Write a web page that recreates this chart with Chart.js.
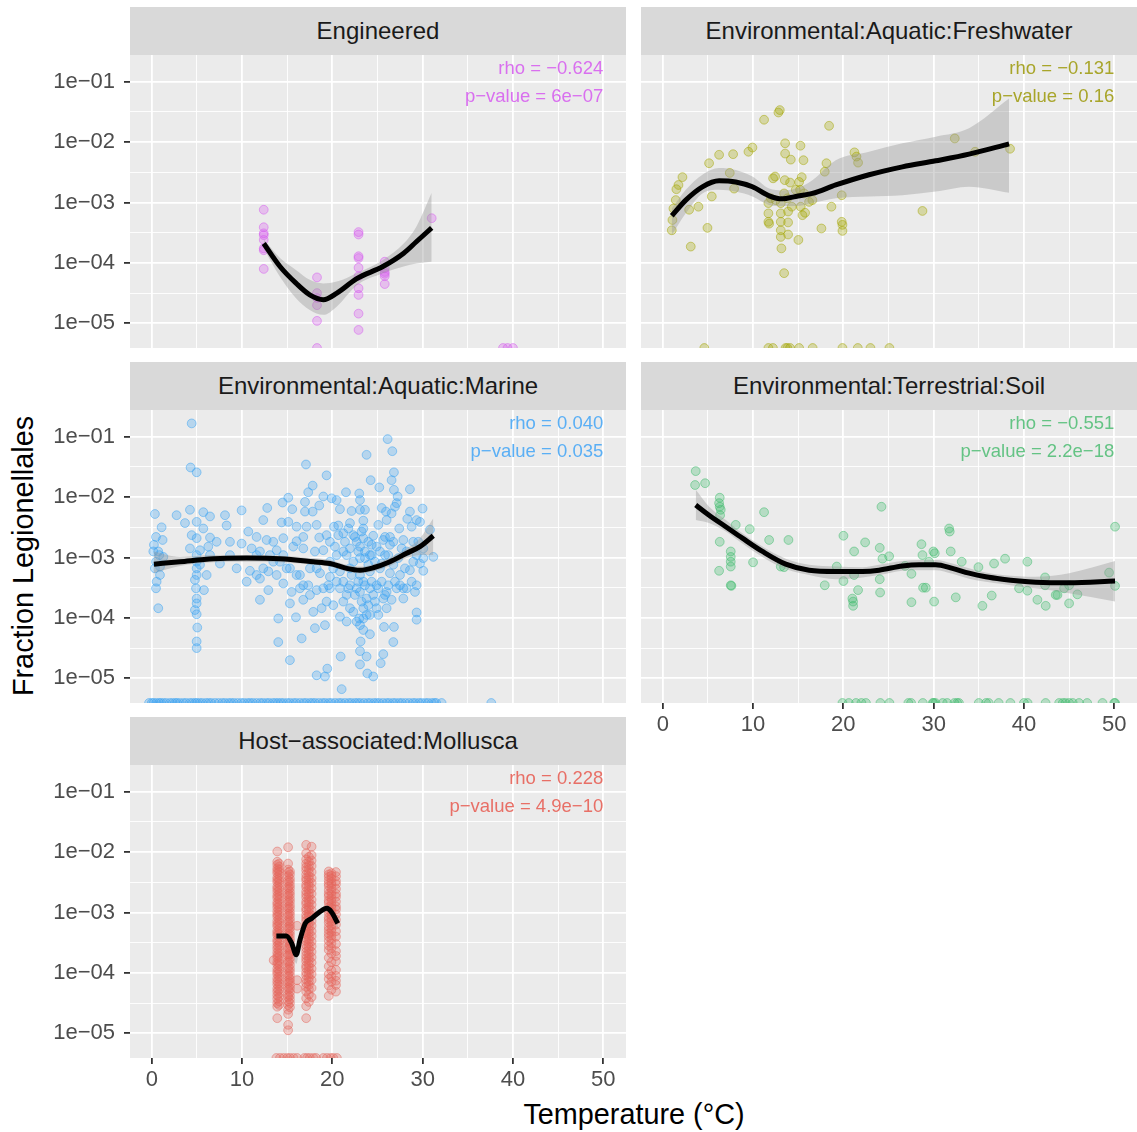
<!DOCTYPE html>
<html>
<head>
<meta charset="utf-8">
<script src="https://cdn.jsdelivr.net/npm/chart.js@4.4.1/dist/chart.umd.min.js"></script>
<style>
  body { margin: 0; background: #fff; width: 1137px; height: 1132px; position: relative; overflow: hidden;
         font-family: 'Liberation Sans', Arial, Helvetica, sans-serif; }
  canvas { position: absolute; }
  .strip { position: absolute; width: 496px; height: 48px; line-height: 48px; background: #D9D9D9;
           color: #1A1A1A; font-size: 24px; text-align: center; white-space: nowrap; }
  .axis-title { position: absolute; color: #000; font-size: 28.8px; white-space: nowrap; }
</style>
</head>
<body>
<div class="axis-title" id="xTitle" style="left:634px; top:1097px; line-height:34px; transform:translateX(-50%);">Temperature (°C)</div>
<div class="axis-title" id="yTitle" style="left:23px; top:556px; line-height:34px; transform:translate(-50%,-50%) rotate(-90deg);">Fraction Legionellales</div>
<script>
// axis breaks (temperature in °C, fraction as log10 exponent)
const tempBreaks = [0, 5, 10, 15, 20, 25, 30, 35, 40, 45, 50];
const fracBreaks = [-5, -4.5, -4, -3.5, -3, -2.5, -2, -1.5, -1];
const tempLimits = [-2.41, 52.52];
const fracLimits = [-5.409, -0.558];

// Engineered
const engTemp = [12.4, 12.4, 12.4, 12.4, 12.4, 12.4, 12.4, 12.4, 18.3, 18.3, 18.3, 18.3, 18.3,
  22.9, 22.9, 22.9, 22.9, 22.9, 22.9, 22.9, 22.9, 22.9, 22.9, 25.8, 25.8, 25.8, 25.8, 25.8, 25.8, 31.0];
const engLog = [-3.12, -3.41, -3.51, -3.54, -3.62, -3.76, -3.79, -4.10, -4.24, -4.50, -4.58, -4.70, -4.96,
  -3.49, -3.53, -3.89, -3.92, -4.08, -4.22, -4.42, -4.53, -4.84, -5.11, -3.98, -4.09, -4.15, -4.18, -4.22, -4.35, -3.26];
const engZero = [18.3, 38.9, 39.4, 40.0];
const engFitT = [12.4, 14.2, 16.0, 17.5, 19.0, 20.5, 22.7, 25.6, 27.9, 29.3, 31.0];
const engFit = [-3.68, -4.06, -4.34, -4.53, -4.61, -4.50, -4.26, -4.06, -3.84, -3.65, -3.42];
const engHi = [-3.61, -3.92, -4.12, -4.28, -4.34, -4.31, -4.17, -3.95, -3.68, -3.40, -2.84];
const engLo = [-3.76, -4.23, -4.59, -4.78, -4.86, -4.72, -4.37, -4.17, -4.06, -4.01, -3.98];

// Environmental:Aquatic:Freshwater
const fwTemp = [1.0, 1.07, 1.18, 1.44, 1.51, 1.74, 2.18, 2.92, 3.10, 3.95, 4.95, 5.13, 5.43, 6.24, 7.42, 7.79, 7.90, 9.49, 9.93, 11.22,
  11.70, 11.70, 11.70, 11.78, 11.96, 12.22, 12.44, 12.81, 12.96, 13.07, 13.07, 13.07, 13.07, 13.07, 13.14, 13.44, 13.51, 13.55, 13.55, 13.81,
  13.88, 13.88, 13.88, 14.10, 14.18, 14.29, 15.02, 15.10, 15.21, 15.25, 15.28, 15.39, 15.47, 15.58, 15.65, 15.76, 16.57, 17.57, 17.94, 18.13,
  18.42, 18.68, 19.82, 19.82, 19.90, 19.90, 21.23, 21.45, 21.63, 28.76, 32.34, 34.59, 38.46, 12.51, 14.73, 16.2, 13.44];
const fwLog = [-3.46, -3.29, -3.10, -2.96, -2.78, -2.71, -2.58, -3.12, -3.73, -3.07, -3.42, -2.35, -2.90, -2.21, -2.51, -2.20, -2.77, -2.16, -2.09, -1.63,
  -3.01, -3.18, -3.32, -3.35, -2.93, -2.60, -2.57, -1.51, -1.47, -3.01, -3.18, -3.32, -3.46, -3.57, -3.76, -4.17, -2.63, -2.02, -2.19, -2.93,
  -3.15, -3.33, -3.53, -2.67, -2.29, -3.07, -3.62, -2.66, -2.79, -2.06, -3.07, -2.58, -3.21, -2.30, -2.85, -3.17, -2.96, -3.43, -2.49, -2.35,
  -1.73, -3.07, -2.88, -3.32, -3.37, -3.47, -2.17, -2.24, -2.34, -3.14, -1.94, -2.16, -2.11, -2.96, -2.79, -2.99, -2.85];
const fwZero = [4.6, 11.7, 12.2, 13.6, 13.8, 14.1, 15.1, 16.6, 19.9, 21.6, 23.0, 25.1];
const fwFitT = [1.0, 2.55, 4.39, 6.24, 8.08, 9.93, 11.78, 13.25, 14.73, 16.57, 19.16, 22.85, 26.54, 30.23, 33.92, 38.35];
const fwFit = [-3.22, -2.96, -2.74, -2.64, -2.66, -2.74, -2.89, -2.94, -2.90, -2.85, -2.71, -2.54, -2.41, -2.31, -2.20, -2.03];
const fwHi = [-3.10, -2.79, -2.54, -2.43, -2.46, -2.57, -2.77, -2.80, -2.77, -2.63, -2.30, -2.16, -2.02, -1.91, -1.77, -1.28];
const fwLo = [-3.54, -3.18, -2.85, -2.79, -2.82, -2.90, -3.04, -3.06, -3.06, -3.01, -2.93, -2.90, -2.88, -2.82, -2.74, -2.84];

// Environmental:Aquatic:Marine
const marTemp = [4.42, 4.30, 4.97, 26.12, 26.64, 23.79, 17.08, 19.36, 26.82, 24.24,
  26.56, 17.82, 25.20, 26.82, 28.59, 17.33, 21.51, 22.98, 19.00, 19.92,
  20.47, 15.12, 14.49, 16.97, 23.06, 27.23, 27.12, 26.93, 29.99, 0.35,
  2.75, 4.23, 5.71, 6.45, 8.11, 9.95, 12.79, 15.56, 16.97, 17.82,
  18.55, 20.84, 22.13, 23.06, 23.61, 25.46, 25.94, 26.56, 28.59, 28.30,
  29.33, 29.70, 3.68, 4.97, 8.29, 12.35, 14.38, 15.12, 16.04, 17.15,
  18.26, 20.18, 20.66, 21.95, 23.43, 25.09, 26.01, 27.41, 28.78, 1.09,
  5.71, 0.47, 1.20, 4.42, 4.97, 6.45, 10.69, 11.61, 12.72, 14.57,
  16.04, 16.78, 18.55, 19.73, 21.21, 22.32, 23.43, 24.53, 25.64, 26.38,
  27.86, 28.96, 30.81, 0.17, 0.83, 1.28, 4.23, 5.34, 6.26, 7.55,
  8.66, 9.95, 11.06, 11.98, 13.09, 13.83, 15.67, 16.78, 18.07, 19.00,
  20.29, 21.21, 21.95, 23.06, 24.16, 25.27, 26.38, 28.22, 29.33, 30.07,
  31.18, 0.35, 0.54, 0.91, 4.97, 6.08, 4.78, 10.87, 11.98, 12.91,
  13.83, 14.94, 16.41, 17.52, 18.63, 19.73, 20.84, 21.95, 23.06, 24.16,
  25.27, 26.38, 27.49, 28.59, 29.70, 30.07, 0.47, 0.72, 5.78, 11.98,
  12.91, 14.57, 15.49, 16.41, 17.33, 18.26, 19.55, 20.84, 21.95, 23.06,
  24.16, 24.90, 26.01, 27.12, 27.86, 29.15, 4.97, 4.97, 4.78, 4.97,
  5.04, 4.97, 4.97, 14.01, 15.97, 18.07, 19.18, 20.84, 21.58, 22.98,
  23.06, 23.43, 23.79, 24.90, 25.72, 26.82, 29.33, 29.33, 14.01, 16.60,
  15.30, 18.26, 19.18, 19.44, 20.92, 21.03, 23.06, 23.06, 23.79, 23.87,
  24.53, 25.35, 25.64, 26.75, 23.13, 24.16, 21.21, 22.32, 23.43, 20.10,
  18.81, 17.89, 16.78, 15.30, 21.58, 22.32, 23.06, 23.61, 23.98, 24.72,
  23.43, 22.69, 23.79, 24.53, 25.64, 21.58, 20.47, 22.69, 23.43, 24.35,
  25.83, 26.75, 20.47, 19.73, 18.26, 19.36, 14.20, 13.46, 11.61, 4.97,
  4.97, 4.97, 4.90, 5.34, 0.47, 0.24, 0.72, 0.91,
  20.66, 21.40, 21.77, 22.50, 22.87, 23.24, 23.61, 23.98, 24.35, 24.90,
  25.46, 25.83, 26.19, 26.75, 27.30, 27.67, 28.04, 28.96, 29.52, 21.21,
  21.77, 22.13, 22.50, 22.87, 23.24, 23.61, 23.98, 24.35, 24.72, 25.09,
  25.46, 25.83, 26.19, 26.56, 26.93, 27.49, 28.22, 28.78, 19.73, 20.10,
  19.00, 19.36, 17.52, 16.78, 16.04, 15.30, 14.57, 13.46, 12.35, 11.61,
  10.51, 9.40, 8.66, 7.18, 6.45, 22.69, 23.43, 24.16, 21.95, 25.09,
  26.01, 27.86, 29.33, 30.07];
const marLog = [-0.78, -1.51, -1.59, -1.04, -1.24, -1.30, -1.46, -1.64, -1.59, -1.72,
  -1.72, -1.81, -1.84, -1.88, -1.87, -1.92, -1.92, -1.94, -1.99, -2.02,
  -2.05, -2.01, -2.09, -2.08, -2.05, -1.99, -2.10, -2.16, -2.19, -2.28,
  -2.30, -2.21, -2.25, -2.32, -2.30, -2.22, -2.18, -2.20, -2.24, -2.24,
  -2.14, -2.20, -2.23, -2.21, -2.21, -2.18, -2.24, -2.27, -2.24, -2.36,
  -2.38, -2.41, -2.43, -2.41, -2.47, -2.38, -2.42, -2.41, -2.49, -2.49,
  -2.46, -2.49, -2.47, -2.43, -2.39, -2.46, -2.38, -2.52, -2.49, -2.50,
  -2.52, -2.66, -2.71, -2.63, -2.68, -2.67, -2.57, -2.66, -2.71, -2.68,
  -2.73, -2.66, -2.67, -2.74, -2.60, -2.63, -2.68, -2.64, -2.71, -2.66,
  -2.71, -2.74, -2.54, -2.90, -2.96, -2.99, -2.85, -2.88, -2.82, -3.10,
  -2.96, -2.77, -2.85, -2.90, -2.96, -2.88, -2.82, -2.85, -2.90, -2.88,
  -2.82, -2.90, -2.85, -2.82, -2.96, -2.90, -2.79, -2.90, -2.96, -2.85,
  -2.99, -3.18, -3.40, -3.29, -3.18, -3.29, -3.37, -3.22, -3.35, -3.23,
  -3.29, -3.18, -3.29, -3.18, -3.26, -3.32, -3.23, -3.18, -3.29, -3.23,
  -3.18, -3.26, -3.29, -3.21, -3.10, -3.22, -3.51, -3.84, -3.54, -3.70,
  -3.54, -3.43, -3.57, -3.51, -3.46, -3.54, -3.46, -3.51, -3.46, -3.57,
  -3.51, -3.46, -3.57, -3.51, -3.68, -3.57, -3.68, -3.76, -3.87, -3.94,
  -4.16, -4.39, -4.50, -4.01, -3.99, -4.17, -4.12, -3.98, -4.06, -4.01,
  -4.12, -4.20, -3.95, -3.84, -4.15, -4.15, -3.91, -4.03, -4.40, -4.34,
  -4.70, -4.95, -4.97, -4.84, -4.64, -5.18, -4.55, -4.77, -4.64, -4.92,
  -4.97, -4.75, -4.60, -4.40, -4.39, -4.27, -3.73, -3.90, -3.84, -3.79,
  -3.84, -3.90, -3.70, -3.76, -2.96, -3.07, -3.01, -2.90, -3.12, -3.07,
  -3.40, -3.51, -3.68, -3.62, -3.68, -3.62, -3.40, -2.74, -2.52, -2.79,
  -2.96, -3.12, -2.96, -3.07, -3.18, -2.63, -3.07, -2.74, -2.96, -2.96,
  -3.07, -3.29, -3.51, -3.12, -3.07, -2.79, -2.90, -3.15,
  -2.63, -2.74, -2.52, -2.66, -2.90, -2.57, -3.01, -2.74, -2.96, -2.82,
  -3.10, -2.66, -2.96, -2.74, -3.01, -2.85, -3.18, -3.07, -2.74, -3.40,
  -3.51, -3.29, -3.62, -3.40, -3.73, -3.46, -3.79, -3.40, -3.73, -3.51,
  -3.40, -3.62, -3.46, -3.70, -3.40, -3.46, -3.51, -3.40, -3.51, -3.18,
  -3.51, -3.73, -3.62, -3.46, -3.29, -3.18, -2.96, -3.07, -3.18, -3.29,
  -3.40, -3.18, -2.74, -2.74, -2.96, -4.06, -4.01, -3.95, -3.84, -3.95,
  -3.84, -3.51, -3.46, -3.01];
const marZero = [-0.3, 0.0, 0.2, 0.5, 0.8, 1.0, 1.3, 1.6, 2.0, 2.3, 2.6, 2.8, 3.1, 3.5, 3.8, 4.2, 4.5, 4.8, 5.0, 5.3,
  5.6, 6.0, 6.3, 6.6, 7.0, 7.4, 7.8, 8.1, 8.5, 8.8, 9.1, 9.5, 9.9, 10.2, 10.6, 10.9, 11.2, 11.6, 12.0, 12.3,
  12.7, 13.0, 13.4, 13.7, 14.0, 14.3, 14.6, 15.0, 15.3, 15.7, 16.0, 16.4, 16.8, 17.1, 17.5, 17.8, 18.1, 18.5, 18.9, 19.2,
  19.6, 19.9, 20.3, 20.7, 21.0, 21.4, 21.8, 22.1, 22.5, 22.8, 23.1, 23.5, 23.9, 24.2, 24.6, 24.9, 25.2, 25.6, 26.0, 26.3,
  26.7, 27.0, 27.4, 27.7, 28.1, 28.5, 28.9, 29.2, 29.6, 29.9, 30.3, 30.6, 31.0, 31.3, 31.5, 32.1, 37.6];
const marFitT = [0.24, 3.12, 6.82, 10.51, 14.20, 17.89, 19.73, 21.58, 23.06, 24.53, 26.38, 28.22, 29.70, 31.18];
const marFit = [-3.11, -3.07, -3.02, -3.01, -3.02, -3.07, -3.10, -3.18, -3.21, -3.17, -3.07, -2.93, -2.82, -2.64];
const marHi = [-2.90, -2.99, -2.96, -2.96, -2.97, -3.01, -3.04, -3.12, -3.15, -3.11, -3.00, -2.85, -2.68, -2.35];
const marLo = [-3.26, -3.14, -3.08, -3.07, -3.08, -3.12, -3.15, -3.23, -3.26, -3.23, -3.14, -3.01, -2.96, -2.96];

// Environmental:Terrestrial:Soil
const soilTemp = [3.65, 3.58, 4.69, 6.31, 6.24, 6.31, 6.42, 6.35, 6.31, 6.24,
  7.53, 7.53, 7.53, 7.53, 7.53, 7.60, 8.08, 9.63, 10.00, 11.22,
  11.78, 13.07, 13.44, 13.92, 17.94, 19.27, 20.01, 20.01, 21.00, 21.08,
  21.08, 21.19, 21.19, 21.63, 22.41, 24.03, 24.03, 24.07, 24.22, 24.33,
  25.07, 26.84, 27.54, 27.54, 28.65, 28.76, 28.83, 29.13, 29.49, 29.97,
  30.12, 30.05, 31.71, 31.78, 31.89, 32.45, 33.11, 34.96, 35.40, 36.43,
  36.69, 37.91, 39.46, 40.38, 40.38, 41.49, 42.34, 42.34, 42.41, 43.52,
  43.71, 44.45, 45.00, 45.00, 45.92, 49.43, 50.09, 50.09];
const soilLog = [-1.57, -1.80, -1.77, -2.01, -2.10, -2.16, -2.21, -2.30, -2.74, -3.22,
  -2.90, -2.99, -3.07, -3.15, -3.46, -3.47, -2.46, -2.53, -3.08, -2.25,
  -2.71, -3.15, -3.16, -2.71, -3.46, -3.15, -2.64, -3.39, -3.68, -3.73,
  -3.80, -2.90, -3.29, -3.54, -2.75, -2.84, -3.36, -3.58, -2.16, -3.02,
  -2.98, -3.14, -3.27, -3.74, -2.78, -2.96, -3.50, -3.50, -3.07, -2.90,
  -2.93, -3.73, -2.52, -2.57, -2.90, -3.66, -3.07, -3.16, -3.80, -3.63,
  -3.10, -3.02, -3.51, -3.07, -3.55, -3.70, -3.33, -3.46, -3.80, -3.62,
  -3.62, -3.51, -3.46, -3.76, -3.61, -3.25, -2.49, -3.47];
const soilZero = [19.9, 20.6, 21.4, 22.0, 22.5, 24.1, 25.1, 27.2, 27.5, 28.8, 29.9, 30.0, 30.2, 31.0, 31.5, 32.3, 32.6, 32.8,
  35.0, 35.8, 36.1, 37.2, 38.5, 40.0, 40.4, 42.4, 43.9, 44.3, 44.6, 45.0, 45.4, 46.1, 47.0, 48.7, 50.0, 50.1];
const soilFitT = [3.65, 5.13, 6.98, 8.82, 11.04, 13.62, 16.21, 19.16, 22.11, 23.96, 26.54, 28.39, 30.23, 32.08, 33.92, 35.77, 37.61, 39.46, 41.31, 45.00, 50.09];
const soilFit = [-2.13, -2.30, -2.49, -2.68, -2.90, -3.11, -3.21, -3.23, -3.23, -3.21, -3.14, -3.12, -3.12, -3.18, -3.26, -3.32, -3.36, -3.39, -3.41, -3.42, -3.39];
const soilHi = [-1.88, -2.16, -2.38, -2.60, -2.82, -3.02, -3.12, -3.15, -3.16, -3.12, -3.06, -3.04, -3.04, -3.10, -3.18, -3.25, -3.29, -3.31, -3.32, -3.26, -3.06];
const soilLo = [-2.38, -2.43, -2.57, -2.77, -2.99, -3.19, -3.29, -3.36, -3.33, -3.29, -3.22, -3.21, -3.21, -3.27, -3.35, -3.40, -3.44, -3.48, -3.51, -3.59, -3.73];

// Host-associated:Mollusca (samples grouped by sampling temperature)
const molColTemp = [13.5, 13.9, 14.1, 15.1, 15.3, 16.1, 17.1, 17.4, 17.7, 19.6, 19.9, 20.4];
const molColLog = [
  [-3.79],
  [-1.99, -2.16, -2.21, -2.27, -2.31, -2.35, -2.42, -2.46, -2.50, -2.57, -2.61, -2.66, -2.72, -2.76, -2.83, -2.87,
   -2.92, -2.98, -3.03, -3.07, -3.14, -3.19, -3.23, -3.30, -3.34, -3.38, -3.45, -3.49, -3.55, -3.60, -3.66, -3.71,
   -3.75, -3.82, -3.86, -3.93, -3.98, -4.02, -4.09, -4.14, -4.19, -4.26, -4.31, -4.37, -4.43, -4.50, -4.56, -4.75],
  [-2.19, -2.24, -2.29, -2.33, -2.38, -2.44, -2.48, -2.53, -2.59, -2.64, -2.69, -2.74, -2.79, -2.85, -2.90, -2.95,
   -3.00, -3.05, -3.11, -3.16, -3.21, -3.27, -3.32, -3.36, -3.41, -3.47, -3.52, -3.57, -3.63, -3.68, -3.73, -3.79,
   -3.84, -3.89, -3.95, -4.00, -4.06, -4.11, -4.17, -4.22, -4.28, -4.34, -4.40, -4.47, -4.53],
  [-1.92, -2.19, -2.29, -2.34, -2.40, -2.47, -2.51, -2.58, -2.62, -2.69, -2.73, -2.80, -2.84, -2.91, -2.95, -3.02,
   -3.06, -3.13, -3.17, -3.24, -3.28, -3.35, -3.39, -3.46, -3.50, -3.58, -3.61, -3.69, -3.72, -3.80, -3.83, -3.91,
   -3.95, -4.02, -4.06, -4.13, -4.17, -4.24, -4.28, -4.36, -4.40, -4.47, -4.53, -4.61, -4.68, -4.86, -4.95],
  [-2.32, -2.37, -2.44, -2.49, -2.55, -2.60, -2.66, -2.71, -2.77, -2.82, -2.88, -2.93, -2.99, -3.04, -3.10, -3.15,
   -3.21, -3.26, -3.32, -3.37, -3.43, -3.48, -3.54, -3.60, -3.65, -3.70, -3.76, -3.81, -3.87, -3.93, -3.98, -4.04,
   -4.10, -4.15, -4.21, -4.26, -4.32, -4.38, -4.44, -4.50, -4.57],
  [-3.22, -4.12, -4.26],
  [-1.88, -2.02, -2.12, -2.19, -2.25, -2.30, -2.37, -2.43, -2.47, -2.54, -2.58, -2.65, -2.70, -2.75, -2.82, -2.86,
   -2.93, -2.97, -3.04, -3.09, -3.14, -3.21, -3.25, -3.32, -3.36, -3.43, -3.47, -3.54, -3.59, -3.65, -3.71, -3.76,
   -3.81, -3.88, -3.92, -3.99, -4.04, -4.11, -4.17, -4.23, -4.31, -4.42, -4.55, -4.75],
  [-2.08, -2.16, -2.22, -2.28, -2.34, -2.40, -2.45, -2.51, -2.56, -2.62, -2.68, -2.73, -2.79, -2.84, -2.90, -2.95,
   -3.01, -3.06, -3.12, -3.18, -3.23, -3.29, -3.34, -3.40, -3.45, -3.51, -3.57, -3.62, -3.68, -3.74, -3.79, -3.85,
   -3.90, -3.96, -4.02, -4.08, -4.14, -4.20, -4.27, -4.36, -4.48],
  [-1.91, -2.05, -2.14, -2.23, -2.33, -2.43, -2.51, -2.60, -2.69, -2.79, -2.87, -2.96, -3.05, -3.14, -3.22, -3.31,
   -3.39, -3.48, -3.56, -3.65, -3.74, -3.83, -3.93, -4.02, -4.12, -4.25, -4.40],
  [-2.32, -2.37, -2.41, -2.47, -2.52, -2.56, -2.63, -2.69, -2.73, -2.80, -2.84, -2.91, -2.96, -3.01, -3.08, -3.12,
   -3.17, -3.24, -3.29, -3.35, -3.40, -3.47, -3.55, -3.62, -3.75, -3.89, -4.02, -4.10, -4.21, -4.38],
  [-2.35, -2.39, -2.44, -2.50, -2.54, -2.60, -2.66, -2.71, -2.77, -2.82, -2.88, -2.93, -2.99, -3.05, -3.10, -3.15,
   -3.21, -3.27, -3.32, -3.38, -3.44, -3.51, -3.59, -3.68, -3.82, -3.96, -4.06, -4.15, -4.28],
  [-2.33, -2.40, -2.48, -2.53, -2.61, -2.69, -2.74, -2.82, -2.90, -2.95, -3.03, -3.12, -3.20, -3.31, -3.40, -3.52,
   -3.64, -3.72, -3.81, -3.95, -4.05, -4.13, -4.20, -4.31]
];
const molZero = [13.8, 14.2, 14.6, 15.0, 15.3, 15.7, 16.1, 16.9, 17.2, 17.5, 17.9, 18.2, 19.0, 19.4, 19.8, 20.1, 20.5];
const molFitT = [13.8, 14.9, 15.5, 16.0, 16.4, 17.0, 17.7, 18.6, 19.4, 19.9, 20.6];
const molFit = [-3.39, -3.39, -3.51, -3.70, -3.46, -3.18, -3.10, -2.99, -2.93, -2.99, -3.18];
const molHi = [-3.35, -3.35, -3.44, -3.58, -3.38, -3.13, -3.06, -2.95, -2.88, -2.93, -3.10];
const molLo = [-3.43, -3.43, -3.58, -3.85, -3.55, -3.23, -3.14, -3.03, -2.98, -3.05, -3.26];

const molTemp = [], molLog = [];
molColTemp.forEach((t, i) => molColLog[i].forEach(v => { molTemp.push(t); molLog.push(v); }));

const FONT = "'Liberation Sans', Arial, Helvetica, sans-serif";
const PW = 496, PH = 293, AXW = 100, AXH = 40;

const panels = [
  { name: 'Engineered', left: 130, top: 55, showX: false, showY: true,
    color: '#D65BEF', text: '#D96FEF', rho: 'rho = −0.624', pval: 'p−value = 6e−07',
    temp: engTemp, log: engLog, zero: engZero, fitT: engFitT, fit: engFit, hi: engHi, lo: engLo },
  { name: 'Environmental:Aquatic:Freshwater', left: 641, top: 55, showX: false, showY: false,
    color: '#A3A500', text: '#A8A52A', rho: 'rho = −0.131', pval: 'p−value = 0.16',
    temp: fwTemp, log: fwLog, zero: fwZero, fitT: fwFitT, fit: fwFit, hi: fwHi, lo: fwLo },
  { name: 'Environmental:Aquatic:Marine', left: 130, top: 410, showX: false, showY: true,
    color: '#3AA3F3', text: '#5AAFF5', rho: 'rho = 0.040', pval: 'p−value = 0.035',
    temp: marTemp, log: marLog, zero: marZero, fitT: marFitT, fit: marFit, hi: marHi, lo: marLo },
  { name: 'Environmental:Terrestrial:Soil', left: 641, top: 410, showX: true, showY: false,
    color: '#3DBB6B', text: '#64C384', rho: 'rho = −0.551', pval: 'p−value = 2.2e−18',
    temp: soilTemp, log: soilLog, zero: soilZero, fitT: soilFitT, fit: soilFit, hi: soilHi, lo: soilLo },
  { name: 'Host−associated:Mollusca', left: 130, top: 765, showX: true, showY: true,
    color: '#E5675E', text: '#E86F66', rho: 'rho = 0.228', pval: 'p−value = 4.9e−10',
    temp: molTemp, log: molLog, zero: molZero, fitT: molFitT, fit: molFit, hi: molHi, lo: molLo }
];

function rgba(hex, a) {
  const n = parseInt(hex.slice(1), 16);
  return 'rgba(' + (n >> 16) + ',' + ((n >> 8) & 255) + ',' + (n & 255) + ',' + a + ')';
}

const isWhole = v => Math.abs(v - Math.round(v)) < 1e-6;

// grey panel background under the grid
const panelBg = {
  id: 'panelBg',
  beforeDraw(chart) {
    const { ctx, chartArea: a } = chart;
    ctx.save();
    ctx.fillStyle = '#EBEBEB';
    ctx.fillRect(a.left, a.top, a.right - a.left, a.bottom - a.top);
    ctx.restore();
  }
};

// correlation text in the top right corner
const corrText = {
  id: 'corrText',
  afterDraw(chart, args, opts) {
    const { ctx, chartArea: a } = chart;
    const x = chart.scales.x.getPixelForValue(50);
    ctx.save();
    ctx.font = '18.5px ' + FONT;
    ctx.fillStyle = opts.color;
    ctx.textAlign = 'right';
    ctx.textBaseline = 'middle';
    ctx.fillText(opts.rho, x, a.top + 14);
    ctx.fillText(opts.pval, x, a.top + 42);
    ctx.restore();
  }
};

panels.forEach(p => {
  const strip = document.createElement('div');
  strip.className = 'strip';
  strip.style.left = p.left + 'px';
  strip.style.top = (p.top - 48) + 'px';
  strip.textContent = p.name;
  document.body.appendChild(strip);

  const cv = document.createElement('canvas');
  const w = PW + (p.showY ? AXW : 0);
  const h = PH + (p.showX ? AXH : 0);
  cv.width = w; cv.height = h;
  cv.style.width = w + 'px'; cv.style.height = h + 'px';
  cv.style.left = (p.left - (p.showY ? AXW : 0)) + 'px';
  cv.style.top = p.top + 'px';
  document.body.appendChild(cv);

  const yFloor = Math.pow(10, fracLimits[0]);
  const pts = p.temp.map((t, i) => ({ x: t, y: Math.pow(10, p.log[i]) }));
  const zeros = p.zero.map(t => ({ x: t, y: yFloor }));
  const curve = arr => p.fitT.map((t, i) => ({ x: t, y: Math.pow(10, arr[i]) }));

  const pointStyle = {
    backgroundColor: rgba(p.color, 0.3), borderColor: rgba(p.color, 0.5),
    borderWidth: 1, pointRadius: 4.4, clip: 0, order: 4
  };

  new Chart(cv, {
    type: 'scatter',
    data: {
      datasets: [
        Object.assign({ data: pts }, pointStyle),
        Object.assign({ data: zeros }, pointStyle),
        { type: 'line', data: curve(p.hi), borderWidth: 0, pointRadius: 0, fill: '+1',
          backgroundColor: 'rgba(153,153,153,0.4)', cubicInterpolationMode: 'monotone', clip: 0, order: 2 },
        { type: 'line', data: curve(p.lo), borderWidth: 0, pointRadius: 0, fill: false,
          cubicInterpolationMode: 'monotone', clip: 0, order: 2 },
        { type: 'line', data: curve(p.fit), borderColor: '#000000', borderWidth: 5, pointRadius: 0,
          fill: false, cubicInterpolationMode: 'monotone', clip: 0, order: 1 }
      ]
    },
    options: {
      responsive: false,
      animation: false,
      devicePixelRatio: 1,
      events: [],
      layout: { padding: 0, autoPadding: false },
      plugins: {
        legend: { display: false },
        tooltip: { enabled: false },
        corrText: { color: p.text, rho: p.rho, pval: p.pval }
      },
      scales: {
        x: {
          type: 'linear', min: tempLimits[0], max: tempLimits[1],
          afterBuildTicks: s => { s.ticks = tempBreaks.map(v => ({ value: v })); },
          afterFit: s => { s.height = p.showX ? AXH : 0; s.paddingLeft = s.paddingRight = 0; },
          border: { display: false },
          grid: {
            color: '#FFFFFF',
            lineWidth: c => (c.tick && c.tick.value % 10 === 0) ? 1.8 : 0.9,
            drawTicks: p.showX, tickLength: 6, tickWidth: 1.8,
            tickColor: c => (c.tick && c.tick.value % 10 === 0) ? '#333333' : 'rgba(0,0,0,0)'
          },
          ticks: {
            display: p.showX, autoSkip: false, maxRotation: 0, padding: 3,
            color: '#4D4D4D', font: { family: FONT, size: 22 },
            callback: v => v % 10 === 0 ? String(v) : ''
          }
        },
        y: {
          type: 'logarithmic', min: Math.pow(10, fracLimits[0]), max: Math.pow(10, fracLimits[1]),
          afterBuildTicks: s => { s.ticks = fracBreaks.map(e => ({ value: Math.pow(10, e) })); },
          afterFit: s => { s.width = p.showY ? AXW : 0; s.paddingTop = s.paddingBottom = 0; },
          border: { display: false },
          grid: {
            color: '#FFFFFF',
            lineWidth: c => (c.tick && isWhole(Math.log10(c.tick.value))) ? 1.8 : 0.9,
            drawTicks: p.showY, tickLength: 6, tickWidth: 1.8,
            tickColor: c => (c.tick && isWhole(Math.log10(c.tick.value))) ? '#333333' : 'rgba(0,0,0,0)'
          },
          ticks: {
            display: p.showY, autoSkip: false, padding: 9,
            color: '#4D4D4D', font: { family: FONT, size: 22 },
            callback: v => {
              const e = Math.log10(v);
              return isWhole(e) ? '1e−' + String(-Math.round(e)).padStart(2, '0') : '';
            }
          }
        }
      }
    },
    plugins: [panelBg, corrText]
  });
});
</script>
</body>
</html>
